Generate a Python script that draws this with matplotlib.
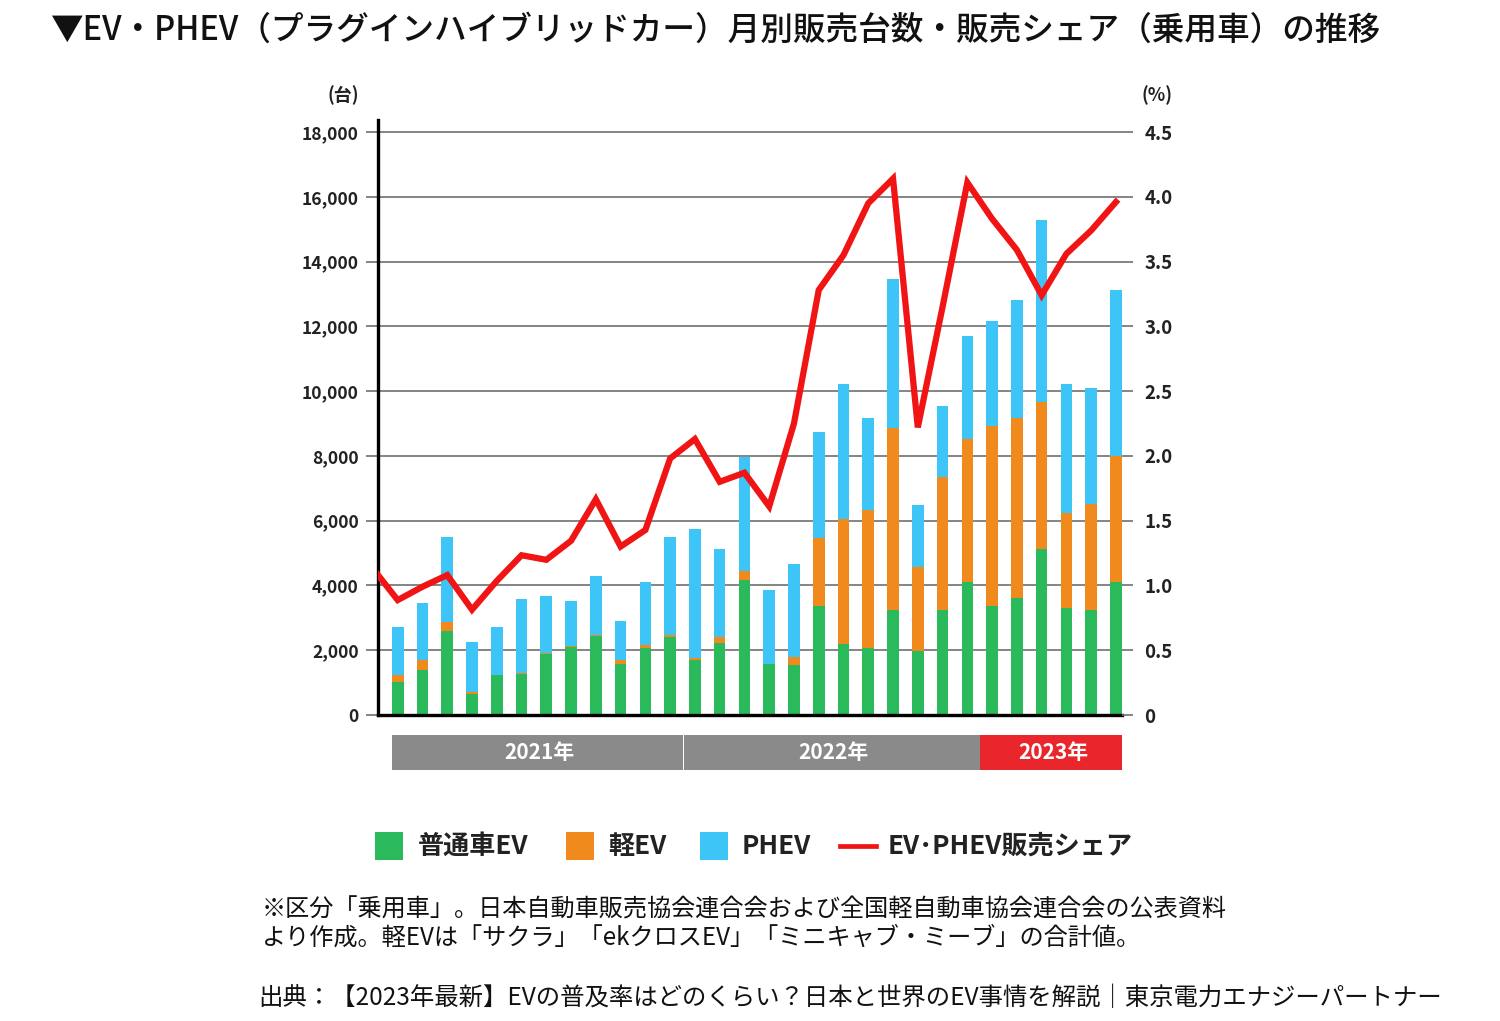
import matplotlib
matplotlib.use("Agg")
import matplotlib.pyplot as plt
import numpy as np
from matplotlib.patches import Rectangle
from matplotlib.lines import Line2D
from matplotlib.transforms import blended_transform_factory

plt.rcParams['font.family'] = ['Noto Sans CJK JP', 'DejaVu Sans']

# ---------------- data ----------------
months = [f"{y}-{m:02d}" for y in (2021, 2022) for m in range(1, 13)] + \
         [f"2023-{m:02d}" for m in range(1, 7)]
years = ["2021年", "2022年", "2023年"]
year_counts = [12, 12, 6]

regular_ev = [1030, 1390, 2590, 640, 1230, 1270, 1880, 2110, 2440, 1590,
              2065, 2395, 1690, 2230, 4175, 1560, 1540, 3360, 2190, 2070,
              3250, 1990, 3250, 4105, 3370, 3605, 5120, 3310, 3250, 4105]
kei_ev = [190, 320, 270, 60, 0, 40, 30, 20, 20, 100,
          90, 90, 80, 170, 280, 0, 240, 2090, 3870, 4260,
          5620, 2570, 4100, 4410, 5560, 5560, 4550, 2920, 3280, 3880]
phev = [1510, 1755, 2640, 1560, 1480, 2280, 1760, 1400, 1820, 1210,
        1940, 3010, 3960, 2720, 3525, 2290, 2890, 3290, 4170, 2840,
        4590, 1930, 2190, 3190, 3250, 3640, 5620, 4000, 3580, 5150]
# share (%) from 2020-12 to 2023-06 (first value lies left of the plotted window)
share = [1.13, 0.887, 0.99, 1.08, 0.813, 1.035, 1.233, 1.198, 1.345, 1.665,
         1.30, 1.428, 1.98, 2.13, 1.80, 1.87, 1.61, 2.25, 3.28, 3.55,
         3.95, 4.14, 2.22, 3.15, 4.11, 3.83, 3.59, 3.24, 3.56, 3.74, 3.96]

y_ticks = [0, 2000, 4000, 6000, 8000, 10000, 12000, 14000, 16000, 18000]
y_labels = ["0", "2,000", "4,000", "6,000", "8,000", "10,000", "12,000",
            "14,000", "16,000", "18,000"]
p_ticks = [0, 0.5, 1.0, 1.5, 2.0, 2.5, 3.0, 3.5, 4.0, 4.5]
p_labels = ["0", "0.5", "1.0", "1.5", "2.0", "2.5", "3.0", "3.5", "4.0", "4.5"]

legend_labels = ["普通車EV", "軽EV", "PHEV", "EV･PHEV販売シェア"]

# ---------------- style ----------------
C_GREEN = "#2bba5b"
C_ORANGE = "#f08a1c"
C_BLUE = "#3ec5f7"
C_RED = "#f01414"
C_GRID = "#6f6f6f"
C_BAND = "#8a8a8a"
C_BAND_RED = "#e8262b"
W, H = 1500, 1021

fig = plt.figure(figsize=(W / 100, H / 100), dpi=100)
fig.patch.set_facecolor("white")

ax_left, ax_right, ax_bot, ax_top = 378, 1122, 715, 120
ax = fig.add_axes([ax_left / W, 1 - ax_bot / H, (ax_right - ax_left) / W,
                   (ax_bot - ax_top) / H])

x = np.arange(len(months))
bw = 0.47
g = np.array(regular_ev)
k = np.array(kei_ev)
p = np.array(phev)
ax.bar(x, g, width=bw, color=C_GREEN, zorder=2, linewidth=0)
ax.bar(x, k, width=bw, bottom=g, color=C_ORANGE, zorder=2, linewidth=0)
ax.bar(x, p, width=bw, bottom=g + k, color=C_BLUE, zorder=2, linewidth=0)

ymax = 18000 * (ax_bot - ax_top) / (ax_bot - 132)
ax.set_ylim(0, ymax)
ax.set_xlim(-0.796, len(months) - 1 + bw / 2 + 0.01)
ax.set_yticks(y_ticks)
ax.set_yticklabels(y_labels, fontsize=12.6, fontweight="bold", color="#222222")
ax.set_xticks([])
ax.grid(axis="y", color=C_GRID, linewidth=1.2, zorder=0)
ax.set_axisbelow(True)
for s in ("top", "right"):
    ax.spines[s].set_visible(False)
ax.spines["left"].set_linewidth(2.4)
ax.spines["bottom"].set_linewidth(2.4)
ax.spines["left"].set_color("black")
ax.spines["bottom"].set_color("black")
ax.tick_params(axis="y", direction="out", length=9, width=1.2, color=C_GRID, pad=5)

ax2 = ax.twinx()
ax2.set_ylim(0, 4.5 * ymax / 18000)
ax2.set_xlim(ax.get_xlim())
xs = np.arange(-1, len(months))
ax2.plot(xs, share, color=C_RED, linewidth=4.5, solid_joinstyle="miter", zorder=5)
ax2.set_yticks(p_ticks)
ax2.set_yticklabels(p_labels, fontsize=13.5, fontweight="bold", color="#222222")
ax2.tick_params(axis="y", direction="out", length=8, width=1.2, color=C_GRID, pad=8)
for s in ("top", "right", "left", "bottom"):
    ax2.spines[s].set_visible(False)

fig.text(343 / W, 1 - 95 / H, "(台)", fontsize=13, fontweight="bold",
         ha="center", va="center", color="#222222")
fig.text(1157 / W, 1 - 95 / H, "(%)", fontsize=13, fontweight="bold",
         ha="center", va="center", color="#222222")

# year bands
trans = blended_transform_factory(ax.transData, fig.transFigure)
edges = np.concatenate([[-0.5], np.cumsum(year_counts) - 0.5])
edges[0] = -bw / 2 - 0.01
edges[-1] = len(months) - 1 + bw / 2 + 0.01
band_y0, band_y1 = 1 - 770 / H, 1 - 735 / H
for i, yr in enumerate(years):
    col = C_BAND_RED if i == len(years) - 1 else C_BAND
    left = edges[i] + (0.05 if i == 1 else 0)
    r = Rectangle((left, band_y0), edges[i + 1] - left, band_y1 - band_y0,
                  transform=trans, facecolor=col, edgecolor="none", clip_on=False,
                  zorder=1)
    fig.add_artist(r)
    fig.text((edges[i] + edges[i + 1]) / 2 + 0.1, (band_y0 + band_y1) / 2, yr,
             transform=trans, ha="center", va="center", color="white",
             fontsize=15, fontweight="bold", zorder=5)

# legend (manual)
ly = 1 - 846 / H
sq = 28
items = [(375, 418, C_GREEN, "sq"), (566, 608, C_ORANGE, "sq"),
         (700, 742, C_BLUE, "sq"), (840, 888, C_RED, "line")]
for (hx, tx, col, kind), lab in zip(items, legend_labels):
    if kind == "sq":
        fig.add_artist(Rectangle((hx / W, ly - sq / 2 / H), sq / W, sq / H,
                                 transform=fig.transFigure, facecolor=col,
                                 edgecolor="none"))
    else:
        fig.add_artist(Line2D([hx / W, (hx + 36) / W], [ly, ly],
                              transform=fig.transFigure, color=col, linewidth=3.4))
    fig.text(tx / W, ly, lab, fontsize=18.8, fontweight="bold", ha="left",
             va="center", color="#222222")

# title and notes
fig.text(50 / W, 1 - 30 / H,
         "▼EV・PHEV（プラグインハイブリッドカー）月別販売台数・販売シェア（乗用車）の推移",
         fontsize=23.5, fontweight="medium", ha="left", va="center", color="#111111")
fig.text(262 / W, 1 - 910 / H,
         "※区分「乗用車」。日本自動車販売協会連合会および全国軽自動車協会連合会の公表資料",
         fontsize=17.4, ha="left", va="center", color="#111111")
fig.text(262 / W, 1 - 938 / H,
         "より作成。軽EVは「サクラ」「ekクロスEV」「ミニキャブ・ミーブ」の合計値。",
         fontsize=17.4, ha="left", va="center", color="#111111")
fig.text(258 / W, 1 - 998 / H,
         "出典：【2023年最新】EVの普及率はどのくらい？日本と世界のEV事情を解説｜東京電力エナジーパートナー",
         fontsize=17.6, ha="left", va="center", color="#111111")

fig.savefig("out.png", dpi=100, facecolor="white")
